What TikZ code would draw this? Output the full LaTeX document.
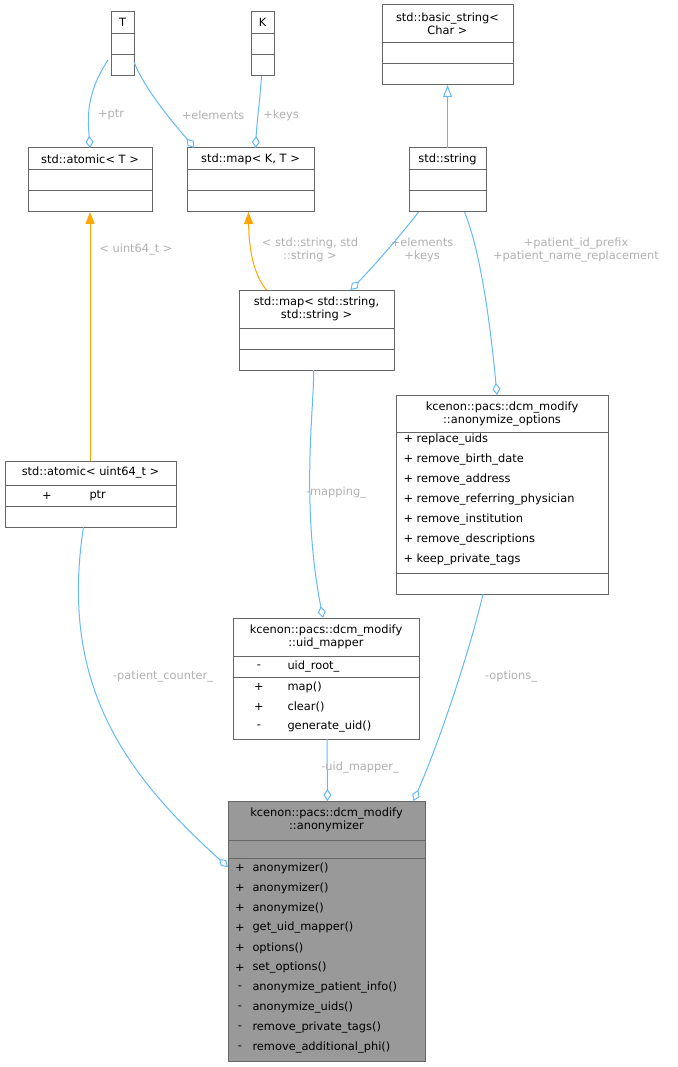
\documentclass[tikz,border=0pt]{standalone}
\usepackage{fontspec}
\setmainfont{DejaVu Sans}
\usetikzlibrary{arrows.meta}
\definecolor{edgeblue}{HTML}{63B8FF}
\definecolor{tplorange}{HTML}{FFA500}
\definecolor{labelgrey}{HTML}{B0B0B0}
\definecolor{boxline}{HTML}{666666}
\tikzset{
  every path/.style={line width=1pt},
  umlbox/.style={draw=boxline,fill=white,inner sep=0pt,outer sep=0pt},
  sep/.style={draw=boxline},
  txt/.style={inner sep=0pt,font=\fontsize{11.4}{13.2}\selectfont,align=center},
  mem/.style={txt,anchor=west},
  lbl/.style={txt,text=labelgrey},
  agg/.style={draw=edgeblue,{Diamond[open,length=12pt,width=8pt]}-},
  tpl/.style={draw=tplorange,{Triangle[length=12pt,width=9pt]}-},
  inh/.style={draw=edgeblue,{Triangle[open,length=12pt,width=9pt]}-},
}
% name, left, top, right, bottom
\newcommand\umlbox[6][]{\node[umlbox,#1,minimum width={(#5-#3)*1pt},minimum height={(#6-#4)*1pt}]
  (#2) at ({(#3+#5)/2},{(#4+#6)/2}) {};}
\newcommand\sepat[2]{\draw[sep] (#1.west |- 0,#2) -- (#1.east |- 0,#2);}

\begin{document}
\begin{tikzpicture}[x=1pt,y=-1pt]
\useasboundingbox (0,0) rectangle (677,1067);

% classes
\umlbox{T}{111}{12}{134}{76}
\sepat{T}{34}\sepat{T}{55}
\node[txt] (tT) at (122.5,22) {T};
\umlbox{K}{251}{12}{274}{76}
\sepat{K}{34}\sepat{K}{55}
\node[txt] (tK) at (262.5,22) {K};
\umlbox{bstr}{382}{5}{513}{85}
\sepat{bstr}{43}\sepat{bstr}{64}
\node[txt] (tbstr) at (447.5,24) {std::basic\_string\textless\\Char \textgreater};
\umlbox{atomT}{28}{148}{152}{212}
\sepat{atomT}{170}\sepat{atomT}{191}
\node[txt] (tatomT) at (90,159) {std::atomic\textless{} T \textgreater};
\umlbox{mapKT}{187}{148}{314}{212}
\sepat{mapKT}{170}\sepat{mapKT}{191}
\node[txt] (tmapKT) at (250.5,159) {std::map\textless{} K, T \textgreater};
\umlbox{str}{409}{148}{486}{212}
\sepat{str}{170}\sepat{str}{191}
\node[txt] (tstr) at (447.5,159) {std::string};
\umlbox{mapss}{239}{290}{394}{370}
\sepat{mapss}{328}\sepat{mapss}{349}
\node[txt] (tmapss) at (316.5,309) {std::map\textless{} std::string,\\std::string \textgreater};
\umlbox{opts}{396}{395}{608}{594}
\sepat{opts}{432}\sepat{opts}{573}
\node[txt] (topts) at (502,414) {kcenon::pacs::dcm\_modify\\::anonymize\_options};
\foreach \m [count=\i] in {replace\_uids,remove\_birth\_date,remove\_address,
    remove\_referring\_physician,remove\_institution,remove\_descriptions,keep\_private\_tags}
  \node[mem] at (403,{420+20*\i}) {+\ \m};
\umlbox{atom64}{5}{461}{176}{527}
\sepat{atom64}{485}\sepat{atom64}{506}
\node[txt] (tatom64) at (90.5,473) {std::atomic\textless{} uint64\_t \textgreater};
\node[txt] at (47,495.5) {+};
\node[mem] at (89,495.5) {ptr};
\umlbox{uidm}{233}{618}{419}{739}
\sepat{uidm}{656}\sepat{uidm}{677}
\node[txt] (tuidm) at (326,637) {kcenon::pacs::dcm\_modify\\::uid\_mapper};
\node[txt] at (259,666.5) {-};
\node[mem] at (287,666.5) {uid\_root\_};
\foreach \s/\m [count=\i] in {+/map(),+/clear(),-/generate\_uid()} {
  \node[txt] at (259,{667+20*\i}) {\s};
  \node[mem] at (287,{667+20*\i}) {\m};
}
\umlbox[fill={rgb,255:red,153;green,153;blue,153}]{anon}{228}{801}{425}{1061}
\sepat{anon}{840}\sepat{anon}{858}
\node[txt] (tanon) at (326.5,820) {kcenon::pacs::dcm\_modify\\::anonymizer};
\foreach \s/\m [count=\i] in {+/anonymizer(),+/anonymizer(),+/anonymize(),+/get\_uid\_mapper(),
    +/options(),+/set\_options(),-/anonymize\_patient\_info(),-/anonymize\_uids(),
    -/remove\_private\_tags(),-/remove\_additional\_phi()} {
  \node[txt] at (240,{848+20*\i}) {\s};
  \node[mem] at (252,{848+20*\i}) {\m};
}

% relations
\draw[agg] (atomT.north) .. controls (88,120) and (85,95) .. ([xshift=-3pt]T.south west |- 0,60);
\node[lbl] at (111,115) {+ptr};
\draw[agg] ([xshift=-56pt]mapKT.north) .. controls (175,125) and (145,90) .. (T.east |- 0,62);
\node[lbl] at (213,115) {+elements};
\draw[agg] ([xshift=5pt]mapKT.north) .. controls (257,120) and (260,100) .. ([xshift=-1pt]K.south);
\node[lbl] at (281,115) {+keys};
\draw[inh] (bstr.south) -- (str.north);
\draw[tpl] ([xshift=-2pt]mapKT.south) .. controls (249,260) and (258,280) .. ([xshift=-50pt]mapss.north);
\node[lbl] at (310,250) {\textless{} std::string, std\\::string \textgreater};
\draw[agg] ([xshift=34pt]mapss.north) .. controls (375,265) and (405,230) .. ([xshift=-29pt]str.south);
\node[lbl] at (422,250) {+elements\\+keys};
\draw[agg] ([xshift=-5pt]opts.north) .. controls (490,320) and (480,250) .. ([xshift=17pt]str.south);
\node[lbl] at (576,250) {+patient\_id\_prefix\\+patient\_name\_replacement};
\draw[tpl] (atomT.south) -- (atomT.south |- atom64.north);
\node[lbl] at (136,250) {\textless{} uint64\_t \textgreater};
\draw[agg] ([xshift=-3pt]uidm.north) .. controls (300,500) and (315,400) .. ([xshift=-3pt]mapss.south);
\node[lbl] at (336,493) {-mapping\_};
\draw[agg] ([xshift=1pt]anon.north) -- ([xshift=1pt]uidm.south);
\node[lbl] at (360,768) {-uid\_mapper\_};
\draw[agg] ([xshift=87pt]anon.north) .. controls (440,740) and (470,650) .. ([xshift=-19pt]opts.south);
\node[lbl] at (511,677) {-options\_};
\draw[agg] (anon.west |- 0,867) .. controls (120,770) and (60,680) .. ([xshift=-7pt]atom64.south);
\node[lbl] at (163,677) {-patient\_counter\_};
\end{tikzpicture}
\end{document}
